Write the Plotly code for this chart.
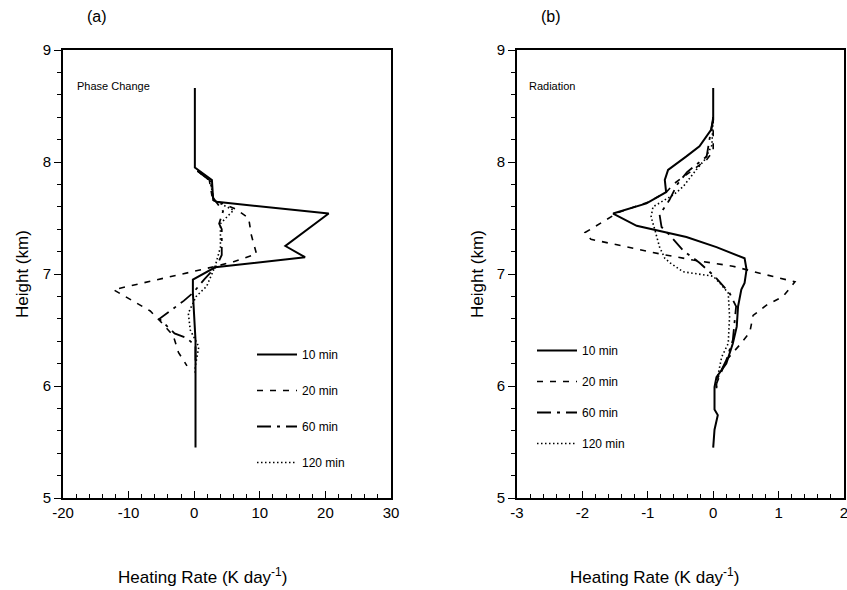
import plotly.graph_objects as go

# ---------------- data: panel (a) Phase Change ----------------
a10_x = [0.1, 0.1, 2.7, 2.9, 3.4, 20.5, 13.9, 16.9, 3.2, -0.2, -0.2, 0.2, 0.2]
a10_h = [8.66, 7.95, 7.84, 7.66, 7.645, 7.54, 7.25, 7.15, 7.06, 6.95, 6.83, 6.41, 5.45]

a20_x = [0.5, 2.3, 2.7, 3.4, 6.3, 8.3, 8.7, 9.5, 6.0, 3.4, -12.3, -6.7, -5.2, -3.2, -2.4, -1.1]
a20_h = [7.92, 7.84, 7.7, 7.65, 7.58, 7.5, 7.35, 7.18, 7.11, 7.07, 6.86, 6.67, 6.58, 6.45, 6.3, 6.18]

a60_x = [0.5, 2.5, 2.9, 4.4, 3.8, 4.2, 4.2, 3.4, 1.5, -0.2, -1.6, -5.3, -3.0, -1.2, 0.2, 0.2]
a60_h = [7.92, 7.83, 7.68, 7.56, 7.45, 7.4, 7.17, 7.07, 6.95, 6.83, 6.76, 6.6, 6.47, 6.43, 6.36, 6.2]

a120_x = [0.5, 2.5, 2.9, 6.0, 4.0, 4.0, 3.2, 1.9, 0.3, -0.9, -0.6, 0.7, 0.15, 0.15]
a120_h = [7.92, 7.83, 7.66, 7.57, 7.45, 7.24, 7.07, 6.89, 6.8, 6.65, 6.5, 6.35, 6.17, 6.1]

# ---------------- data: panel (b) Radiation ----------------
b10_x = [0.0, 0.0, -0.03, -0.21, -0.41, -0.69, -0.74, -0.72, -1.02, -1.53, -1.17, -0.41, 0.05,
         0.48, 0.51, 0.48, 0.43, 0.38, 0.36, 0.30, 0.20, 0.05, 0.02, 0.02, 0.07, 0.02, 0.0]
b10_h = [8.66, 8.375, 8.29, 8.14, 8.05, 7.93, 7.84, 7.73, 7.63, 7.54, 7.43, 7.33, 7.24,
         7.14, 7.04, 6.92, 6.86, 6.71, 6.53, 6.38, 6.20, 6.08, 5.99, 5.79, 5.74, 5.61, 5.45]

b20_x = [0.0, 0.0, -0.1, -0.36, -0.59, -0.72, -1.0, -1.45, -1.96, -1.87, -1.33, -0.82, -0.31,
         0.30, 0.76, 1.25, 1.07, 0.81, 0.61, 0.56, 0.41, 0.20, 0.05, 0.05]
b20_h = [8.4, 8.1, 8.02, 7.91, 7.81, 7.73, 7.64, 7.55, 7.37, 7.31, 7.24, 7.18, 7.125,
         7.07, 7.0, 6.93, 6.80, 6.72, 6.63, 6.48, 6.37, 6.23, 6.02, 5.97]

b60_x = [0.0, -0.1, -0.4, -0.55, -0.67, -0.82, -0.79, -0.67, -0.46, -0.21, 0.02, 0.25, 0.35,
         0.30, 0.20, 0.05, 0.05]
b60_h = [8.4, 8.05, 7.91, 7.8, 7.66, 7.53, 7.42, 7.35, 7.21, 7.10, 6.98, 6.83, 6.71,
         6.41, 6.23, 6.05, 5.98]

b120_x = [0.0, -0.02, -0.13, -0.26, -0.46, -0.6, -0.92, -0.95, -0.89, -0.82, -0.74, -0.66,
          -0.46, 0.0, 0.1, 0.23, 0.25, 0.23, 0.13, 0.05, 0.05]
b120_h = [8.4, 8.15, 8.02, 7.93, 7.78, 7.71, 7.6, 7.51, 7.39, 7.24, 7.14, 7.1,
          7.02, 6.98, 6.92, 6.83, 6.62, 6.38, 6.26, 6.03, 5.98]

# tick values / labels
xa_ticks = [-20, -10, 0, 10, 20, 30]
xb_ticks = [-3, -2, -1, 0, 1, 2]
y_ticks = [5, 6, 7, 8, 9]

labels = ["10 min", "20 min", "60 min", "120 min"]
dashes = ["solid", "6px,7px", "14px,6px,3px,6px", "1.5px,2.5px"]
widths = [2.0, 1.6, 1.8, 1.6]

W, H = 847, 590
def px(x):
    return x / W
def py(y):
    return 1 - y / H

fnt = "Liberation Sans, Arial, sans-serif"
fig = go.Figure()

series_a = [(a10_x, a10_h), (a20_x, a20_h), (a60_x, a60_h), (a120_x, a120_h)]
series_b = [(b10_x, b10_h), (b20_x, b20_h), (b60_x, b60_h), (b120_x, b120_h)]

for i, (xs, hs) in enumerate(series_a):
    fig.add_trace(go.Scatter(x=xs, y=hs, mode="lines", name=labels[i],
                             line=dict(color="black", width=widths[i], dash=dashes[i]),
                             xaxis="x", yaxis="y", legend="legend",
                             legendgroup="a" + str(i)))
for i, (xs, hs) in enumerate(series_b):
    fig.add_trace(go.Scatter(x=xs, y=hs, mode="lines", name=labels[i],
                             line=dict(color="black", width=widths[i], dash=dashes[i]),
                             xaxis="x2", yaxis="y2", legend="legend2",
                             legendgroup="b" + str(i)))

tickfont = dict(family=fnt, size=15, color="black")
axis_common = dict(showgrid=False, zeroline=False, showline=True, linecolor="black",
                   linewidth=2, mirror=True, tickfont=tickfont, tickcolor="black",
                   automargin=False, tickmode="array", ticklen=7, tickwidth=1.2,
                   ticklabeloverflow="allow")

def lab(v):
    return str(v)

dom_a = [px(63), px(391)]
dom_b = [px(517), px(844)]
dom_y = [py(498), py(50)]

fig.update_layout(
    template="none",
    width=W, height=H, margin=dict(l=0, r=0, t=0, b=0, autoexpand=False),
    paper_bgcolor="white", plot_bgcolor="white", showlegend=True,
    xaxis=dict(domain=dom_a, range=[-20, 30], anchor="y",
               tickvals=xa_ticks, ticktext=[lab(v) for v in xa_ticks], ticks="inside",
               minor=dict(tickmode="linear", tick0=-20, dtick=2, ticks="inside", ticklen=4,
                          tickcolor="black", tickwidth=1),
               **axis_common),
    yaxis=dict(domain=dom_y, range=[5, 9], anchor="x",
               tickvals=y_ticks, ticktext=[lab(v) for v in y_ticks], ticks="outside",
               minor=dict(tickmode="linear", tick0=5, dtick=0.2, ticks="outside", ticklen=4,
                          tickcolor="black", tickwidth=1),
               **axis_common),
    xaxis2=dict(domain=dom_b, range=[-3, 2], anchor="y2",
                tickvals=xb_ticks, ticktext=[lab(v) for v in xb_ticks], ticks="inside",
                minor=dict(tickmode="linear", tick0=-3, dtick=0.2, ticks="inside", ticklen=4,
                           tickcolor="black", tickwidth=1),
                **axis_common),
    yaxis2=dict(domain=dom_y, range=[5, 9], anchor="x2",
                tickvals=y_ticks, ticktext=[lab(v) for v in y_ticks], ticks="outside",
                minor=dict(tickmode="linear", tick0=5, dtick=0.2, ticks="outside", ticklen=4,
                           tickcolor="black", tickwidth=1),
                **axis_common),
    legend=dict(x=px(252), y=py(340), xanchor="left", yanchor="top", itemwidth=40,
                bgcolor="rgba(0,0,0,0)", borderwidth=0, tracegroupgap=17,
                font=dict(family=fnt, size=12, color="black")),
    legend2=dict(x=px(532), y=py(336), xanchor="left", yanchor="top", itemwidth=40,
                 bgcolor="rgba(0,0,0,0)", borderwidth=0, tracegroupgap=12,
                 font=dict(family=fnt, size=12, color="black")),
)

annots = [
    dict(text="(a)", x=px(97), y=py(17), size=16),
    dict(text="(b)", x=px(551), y=py(17), size=16),
    dict(text="Heating Rate (K day<sup>-1</sup>)", x=px(202), y=py(576), size=17),
    dict(text="Heating Rate (K day<sup>-1</sup>)", x=px(654), y=py(576), size=17),
]
for a in annots:
    fig.add_annotation(text=a["text"], x=a["x"], y=a["y"], xref="paper", yref="paper",
                       xanchor="center", yanchor="middle", showarrow=False,
                       font=dict(family=fnt, size=a["size"], color="black"))
for xx in (22, 477):
    fig.add_annotation(text="Height (km)", x=px(xx), y=py(274), xref="paper", yref="paper",
                       xanchor="center", yanchor="middle", showarrow=False, textangle=-90,
                       font=dict(family=fnt, size=17, color="black"))
fig.add_annotation(text="Phase Change", x=px(75), y=py(86), xref="paper", yref="paper",
                   xanchor="left", yanchor="middle", showarrow=False,
                   font=dict(family=fnt, size=11, color="black"))
fig.add_annotation(text="Radiation", x=px(527), y=py(86), xref="paper", yref="paper",
                   xanchor="left", yanchor="middle", showarrow=False,
                   font=dict(family=fnt, size=11, color="black"))

fig.write_html("out.html", config={"displayModeBar": False},
               post_script="document.body.style.margin='0';document.body.style.overflow='hidden';")
